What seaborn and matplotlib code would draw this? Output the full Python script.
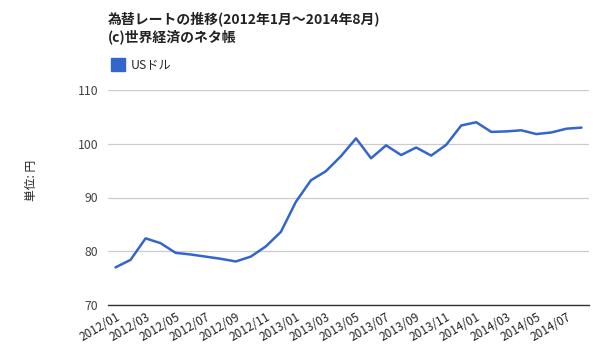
import pandas as pd
import matplotlib
matplotlib.use("Agg")
import matplotlib.pyplot as plt
import matplotlib.patches as mpatches
import seaborn as sns

# data (USD/JPY monthly)
months = [f"{y}/{m:02d}" for y in (2012, 2013) for m in range(1, 13)] + \
         [f"2014/{m:02d}" for m in range(1, 9)]
usd = [77.0, 78.4, 82.4, 81.5, 79.7, 79.4, 79.0, 78.6, 78.1, 79.0, 80.9, 83.6,
       89.2, 93.2, 94.9, 97.7, 101.0, 97.3, 99.7, 97.9, 99.3, 97.8, 99.8, 103.4,
       104.0, 102.2, 102.3, 102.5, 101.8, 102.1, 102.8, 103.0]
y_ticks = [70, 80, 90, 100, 110]

title = "為替レートの推移(2012年1月～2014年8月)\n(c)世界経済のネタ帳"
series_name = "USドル"
y_label = "単位: 円"

sns.set_theme(style="white")
plt.rcParams["font.family"] = ["Noto Sans CJK JP", "DejaVu Sans"]

df = pd.DataFrame({"month": months, "value": usd, "pos": range(len(months))})

fig = plt.figure(figsize=(6, 3.6), dpi=100)
ax = fig.add_axes([108 / 600, 55 / 360, 481 / 600, 215 / 360])

sns.lineplot(data=df, x="pos", y="value", ax=ax, color="#3366CC", linewidth=1.8)

ax.set_xlim(-0.5, len(months) - 0.5)
ax.set_ylim(70, 110)
ax.set_yticks(y_ticks)
ax.set_yticklabels([str(t) for t in y_ticks], fontsize=8.8, color="#444444")
ax.set_xticks(df["pos"][::2])
ax.set_xticklabels(df["month"][::2], rotation=30, ha="right",
                   rotation_mode="anchor", fontsize=8.5, color="#222222")
ax.tick_params(axis="both", length=0, pad=7)
ax.tick_params(axis="x", pad=4)

ax.grid(axis="y", color="#cccccc", linewidth=0.9)
ax.grid(axis="x", visible=False)
for s in ["top", "right", "left"]:
    ax.spines[s].set_visible(False)
ax.spines["bottom"].set_color("#333333")
ax.spines["bottom"].set_linewidth(1)
ax.set_xlabel("")
ax.set_ylabel("")

fig.text(32 / 600, 0.5, y_label, rotation=90, va="center", ha="center",
         fontsize=8.5, color="#222222")

fig.text(108 / 600, 1 - 11 / 360, title, ha="left", va="top",
         fontsize=10, fontweight="bold", color="#222222", linespacing=1.3)

handle = mpatches.Patch(color="#3366CC", label=series_name)
fig.legend(handles=[handle], loc="center left", bbox_to_anchor=(100 / 600, 1 - 65 / 360),
           frameon=False, handlelength=1.15, handleheight=1.15, handletextpad=0.45,
           fontsize=8.8)

fig.savefig("out.png", dpi=100)
